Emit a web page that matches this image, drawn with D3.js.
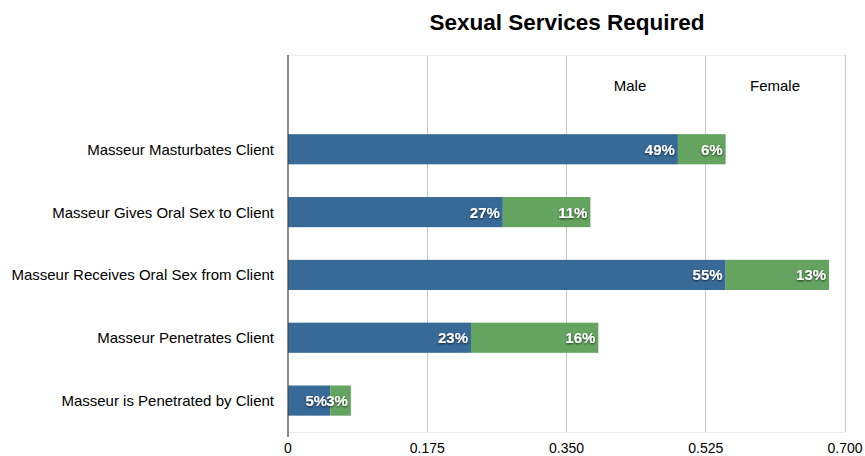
<!DOCTYPE html>
<html><head><meta charset="utf-8">
<script src="https://cdn.jsdelivr.net/npm/d3@7"></script>
<style>body{margin:0;background:#fff;font-family:"Liberation Sans",Arial,Helvetica,sans-serif;}</style>
</head><body><svg id="c" width="865" height="456"></svg>
<script>
const categories = ["Masseur Masturbates Client","Masseur Gives Oral Sex to Client","Masseur Receives Oral Sex from Client","Masseur Penetrates Client","Masseur is Penetrated by Client"];
const male = [0.49,0.27,0.55,0.23,0.053];
const female = [0.06,0.11,0.13,0.16,0.026];
const seriesNames = ["Male","Female"];
const ticks = [0,0.175,0.35,0.525,0.7];
const tickLabels = ["0","0.175","0.350","0.525","0.700"];
const colors = ["#386a98","#65a460"];

(function(){
const svg = d3.select("#c");
const pL=288, pR=845, pT=55, pB=432;
const x = d3.scaleLinear().domain([0,0.7]).range([pL,pR]);
const y = d3.scaleBand().domain(["__legend"].concat(categories)).range([pT,pB]).paddingInner(0.52).paddingOuter(0.26);

svg.append("text").attr("x",567).attr("y",30).attr("text-anchor","middle")
  .attr("font-size",22.5).attr("font-weight","bold").attr("fill","#000").text("Sexual Services Required");

svg.append("g").selectAll("line").data(ticks.slice(1)).join("line")
  .attr("x1",d=>x(d)).attr("x2",d=>x(d)).attr("y1",pT).attr("y2",pB)
  .attr("stroke","#c8c8c8").attr("stroke-width",1).attr("shape-rendering","crispEdges");
svg.append("line").attr("x1",pL).attr("x2",pR).attr("y1",pT).attr("y2",pT).attr("stroke","#ececec").attr("shape-rendering","crispEdges");
svg.append("line").attr("x1",pL).attr("x2",pR).attr("y1",pB).attr("y2",pB).attr("stroke","#ececec").attr("shape-rendering","crispEdges");

const legX = [630, 775];
svg.append("g").selectAll("text").data(seriesNames).join("text")
  .attr("x",(d,i)=>legX[i]).attr("y",y("__legend")+y.bandwidth()/2+5).attr("text-anchor","middle")
  .attr("font-size",15).attr("fill","#000").text(d=>d);

const stackData = categories.map((c,i)=>({cat:c, Male:male[i], Female:female[i]}));
const stack = d3.stack().keys(seriesNames)(stackData);

const defs = svg.append("defs");
const f = defs.append("filter").attr("id","sh").attr("x","-20%").attr("y","-20%").attr("width","140%").attr("height","140%");
f.append("feDropShadow").attr("dx",0).attr("dy",1).attr("stdDeviation",0.8).attr("flood-color","#000").attr("flood-opacity",0.7);

stack.forEach((s,si)=>{
  const g = svg.append("g");
  g.selectAll("rect").data(s).join("rect")
    .attr("x",d=>x(d[0])).attr("width",d=>x(d[1])-x(d[0]))
    .attr("y",d=>y(d.data.cat)).attr("height",y.bandwidth())
    .attr("fill",colors[si]);
  g.selectAll("text").data(s).join("text")
    .attr("x",d=>x(d[1])-3).attr("y",d=>y(d.data.cat)+y.bandwidth()/2+5.5)
    .attr("text-anchor","end").attr("font-size",15).attr("font-weight","bold").attr("fill","#fff")
    .attr("filter","url(#sh)")
    .text(d=>Math.round((d[1]-d[0])*100)+"%");
});

svg.append("g").selectAll("text").data(categories).join("text")
  .attr("x",274).attr("y",d=>y(d)+y.bandwidth()/2+5.5).attr("text-anchor","end")
  .attr("font-size",15).attr("fill","#000").text(d=>d);

svg.append("line").attr("x1",pL).attr("x2",pL).attr("y1",pT).attr("y2",437).attr("stroke","#444").attr("stroke-width",1.2);

svg.append("g").selectAll("text").data(ticks).join("text")
  .attr("x",d=>x(d)).attr("y",453).attr("text-anchor","middle")
  .attr("font-size",14).attr("fill","#000").text((d,i)=>tickLabels[i]);
})();
</script></body></html>
